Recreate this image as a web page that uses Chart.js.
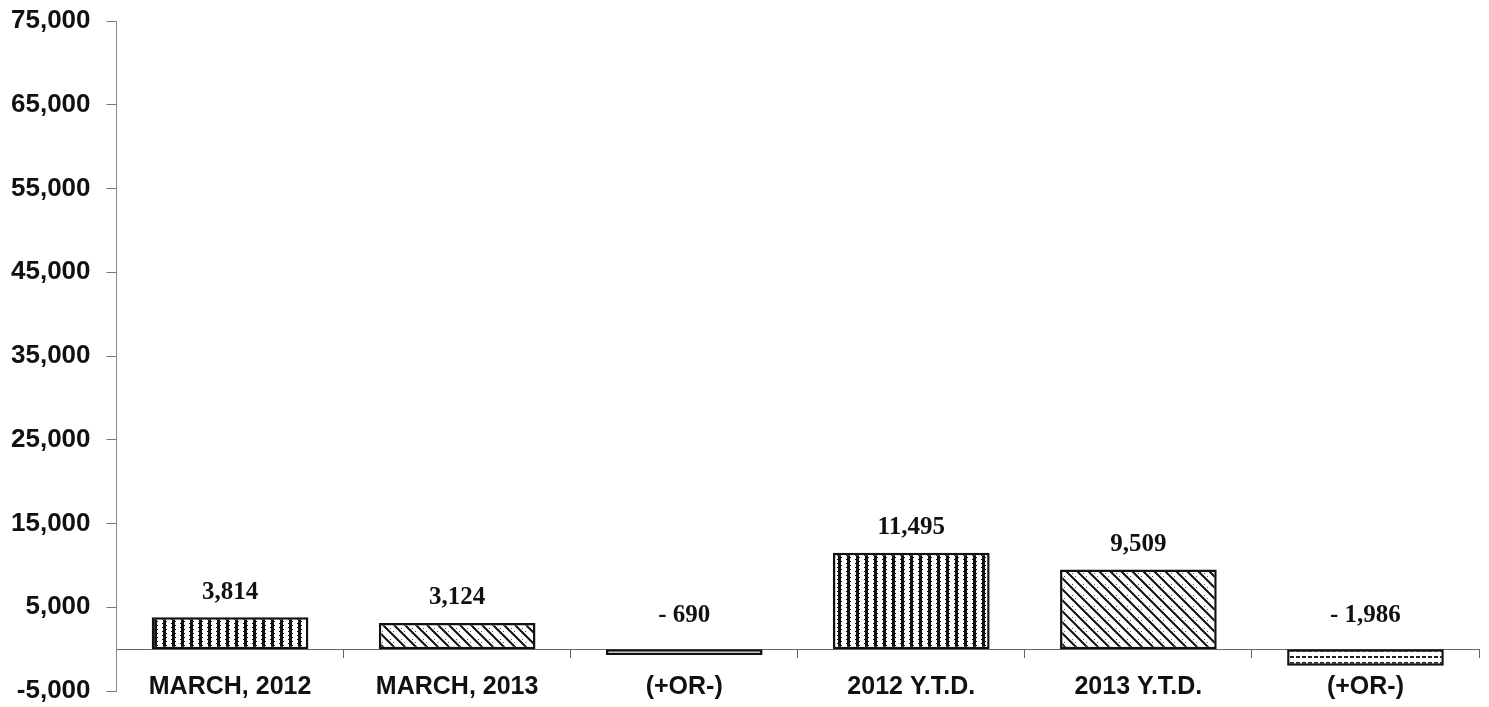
<!DOCTYPE html>
<html>
<head>
<meta charset="utf-8">
<script src="https://cdn.jsdelivr.net/npm/chart.js@4.4.1/dist/chart.umd.min.js"></script>
<style>
  html, body { margin: 0; padding: 0; background: #fff; }
  #wrap { width: 1489px; height: 707px; }
</style>
</head>
<body>
<div id="wrap"><canvas id="barChart"></canvas></div>
<script>
/*  Chart data */
const categories = ['MARCH, 2012', 'MARCH, 2013', '(+OR-)', '2012 Y.T.D.', '2013 Y.T.D.', '(+OR-)']
const values = [3814, 3124, -690, 11495, 9509, -1986]
const yTicks = [-5000, 5000, 15000, 25000, 35000, 45000, 55000, 65000, 75000]
const patternKinds = ['vertical', 'diagonal', 'dots', 'vertical', 'diagonal', 'horizontal']

/*  Hatch patterns like the printed bars */
function makePattern(kind) {
  const c = document.createElement('canvas')
  const ctx = c.getContext('2d')
  if (kind === 'vertical') {
    c.width = 9; c.height = 4
    ctx.fillStyle = '#fff'; ctx.fillRect(0, 0, 9, 4)
    ctx.fillStyle = '#111'
    ctx.fillRect(1, 0, 3, 4)
    ctx.fillRect(4, 1, 1, 1)
    ctx.fillRect(0, 3, 1, 1)
  } else if (kind === 'diagonal') {
    c.width = 11; c.height = 11
    ctx.fillStyle = '#fff'; ctx.fillRect(0, 0, 11, 11)
    ctx.strokeStyle = '#111'; ctx.lineWidth = 2
    ctx.beginPath()
    ctx.moveTo(-2, -2); ctx.lineTo(13, 13)
    ctx.moveTo(-2, 9); ctx.lineTo(2, 13)
    ctx.moveTo(9, -2); ctx.lineTo(13, 2)
    ctx.stroke()
    ctx.fillStyle = '#555'
    ctx.fillRect(5, 1, 1, 1)
    ctx.fillRect(8, 4, 1, 1)
  } else if (kind === 'horizontal') {
    c.width = 6; c.height = 6
    ctx.fillStyle = '#fff'; ctx.fillRect(0, 0, 6, 6)
    ctx.fillStyle = '#222'
    ctx.fillRect(0, 2, 4, 2)
  } else {
    c.width = 4; c.height = 4
    ctx.fillStyle = '#fff'; ctx.fillRect(0, 0, 4, 4)
    ctx.fillStyle = '#333'
    ctx.fillRect(0, 1, 2, 1)
  }
  return ctx.createPattern(c, 'repeat')
}

function fmt(v) {
  const s = Math.abs(v).toLocaleString('en-US')
  return v < 0 ? '- ' + s : s
}

/*  Value labels over the bars */
const valueLabels = {
  id: 'valueLabels',
  afterDatasetsDraw(chart) {
    const ctx = chart.ctx
    const meta = chart.getDatasetMeta(0)
    const zeroY = chart.scales.y.getPixelForValue(0)
    ctx.save()
    ctx.font = 'bold 25px "Liberation Serif", "Times New Roman", serif'
    ctx.fillStyle = '#111'
    ctx.textAlign = 'center'
    ctx.textBaseline = 'middle'
    meta.data.forEach((bar, i) => {
      const v = values[i]
      const y = v >= 0 ? bar.y - 25 : zeroY - 34
      ctx.fillText(fmt(v), bar.x, y)
    })
    ctx.restore()
  }
}

new Chart(document.getElementById('barChart'), {
  type: 'bar',
  data: {
    labels: categories,
    datasets: [{
      data: values,
      backgroundColor: patternKinds.map(makePattern),
      borderColor: '#111',
      borderWidth: 2.5,
      borderSkipped: false,
      barPercentage: 0.69,
      categoryPercentage: 1
    }]
  },
  options: {
    responsive: true,
    maintainAspectRatio: false,
    animation: false,
    layout: { padding: { left: -5, right: 10, top: 21, bottom: 16 } },
    plugins: {
      legend: { display: false },
      tooltip: { enabled: false }
    },
    scales: {
      x: {
        position: { y: 0 },
        // labels hang under the zero line, so the axis takes no room of its own
        afterFit: scale => { scale.height = 0 },
        grid: { drawOnChartArea: false, offset: true, tickLength: 8, color: '#666' },
        border: { color: '#666', width: 1 },
        ticks: {
          padding: 15,
          color: '#111',
          font: { family: '"Liberation Sans", Arial, sans-serif', size: 25, weight: 'bold' }
        }
      },
      y: {
        min: -5000,
        max: 75000,
        afterBuildTicks: scale => { scale.ticks = yTicks.map(v => ({ value: v })) },
        // top and bottom room comes from layout padding only
        afterFit: scale => { scale.paddingTop = 0; scale.paddingBottom = 0 },
        grid: { drawOnChartArea: false, tickLength: 10, color: '#777' },
        border: { color: '#888', width: 1 },
        ticks: {
          padding: 16,
          color: '#111',
          callback: v => v.toLocaleString('en-US'),
          font: { family: '"Liberation Sans", Arial, sans-serif', size: 26, weight: 'bold' }
        }
      }
    }
  },
  plugins: [valueLabels]
})
</script>
</body>
</html>
